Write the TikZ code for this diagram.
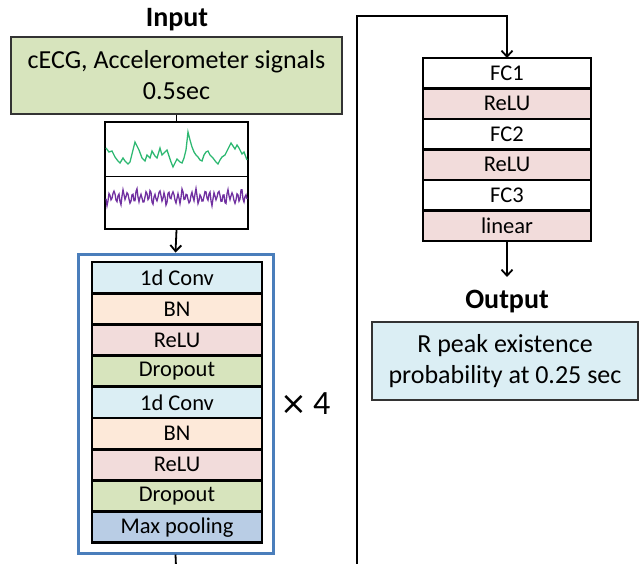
\documentclass[tikz,border=0pt]{standalone}
\usepackage{fontspec}
\setmainfont{Carlito}
\newfontfamily\dvsfont{DejaVu Sans}
\usetikzlibrary{arrows.meta}
\definecolor{cConv}{HTML}{DBEEF4}
\definecolor{cBN}{HTML}{FDE9D9}
\definecolor{cReLU}{HTML}{F2DCDB}
\definecolor{cDrop}{HTML}{D7E4BD}
\definecolor{cPool}{HTML}{B9CDE5}
\definecolor{cBlue}{HTML}{4A7EBB}
\definecolor{cEcg}{HTML}{2EB872}
\definecolor{cAcc}{HTML}{7030A0}
\tikzset{
  layer/.style={draw=black, line width=2.8pt, minimum height=31.2pt, inner sep=0pt,
    font=\fontsize{22.5}{24}\selectfont},
  lleft/.style={layer, minimum width=170pt},
  lright/.style={layer, minimum width=168pt, minimum height=30.5pt},
  iobox/.style={draw=black!80, line width=1.3pt, align=center, inner sep=0pt,
    font=\fontsize{26}{31}\selectfont},
  ttl/.style={font=\fontsize{28}{30}\selectfont\bfseries},
  conn/.style={line width=1.8pt, draw=black},
  arr/.style={conn, -{Straight Barb[length=6pt,width=11pt,line width=1.8pt]}},
}
\begin{document}
\begin{tikzpicture}[x=1pt,y=-1pt]
\useasboundingbox (0,0) rectangle (639,563);
% input
\node[ttl] (inT) at (177,20) {Input};
\node[iobox, fill=cDrop, minimum width=331pt, minimum height=77pt] (inbox) at (176.5,75.5)
  {cECG, Accelerometer signals\\0.5sec};
% signal box
\node[draw=black, line width=1.6pt, minimum width=143pt, minimum height=107pt, inner sep=0pt] (sig) at (176.5,175.5) {};
\draw[line width=1pt] (sig.west |- 0,176) -- (sig.east |- 0,176);
\draw[cEcg, line width=1.3pt] plot coordinates {(106,148) (109,152) (112,151) (115,157) (118,161) (120,163) (123,158) (125,161) (128,164) (130,162) (133,150) (135,142) (137,146) (139,150) (142,158) (145,161) (147,155) (150,158) (152,151) (155,156) (157,158) (160,148) (162,155) (164,153) (167,150) (169,156) (171,162) (173,167) (175,163) (177,159) (180,162) (182,163) (184,158) (186,150) (188,132) (190,140) (192,147) (194,152) (196,155) (198,157) (200,160) (202,161) (204,155) (206,152) (208,151) (210,155) (213,158) (216,162) (218,164) (220,160) (222,157) (225,155) (227,151) (229,147) (231,143) (233,146) (235,149) (237,145) (239,148) (242,154) (244,152) (247,160)};
\draw[cAcc, line width=1.3pt] plot[domain=0:141, samples=142] ({106+\x}, {197 + 5*sin(\x*79) + 2.5*sin(\x*31+40) + 1.5*sin(\x*103)});
\draw[conn] (inbox.south) -- (sig.north);
% conv block
\node[draw=cBlue, line width=3pt, minimum width=195pt, minimum height=299pt, inner sep=0pt] (outer) at (175.5,403.5) {};
\draw[arr] (sig.south) -- (outer.north);
\node[lleft, fill=cConv] (c1) at (177,277.6) {1d Conv};
\node[lleft, fill=cBN] (b1) at (177,308.8) {BN};
\node[lleft, fill=cReLU] (r1) at (177,340.0) {ReLU};
\node[lleft, fill=cDrop] (d1) at (177,371.2) {Dropout};
\node[lleft, fill=cConv] (c2) at (177,402.4) {1d Conv};
\node[lleft, fill=cBN] (b2) at (177,433.6) {BN};
\node[lleft, fill=cReLU] (r2) at (177,464.8) {ReLU};
\node[lleft, fill=cDrop] (d2) at (177,496.0) {Dropout};
\node[lleft, fill=cPool] (mp) at (177,527.2) {Max pooling};
\node[font=\fontsize{34}{36}\selectfont, anchor=west, inner sep=0pt] (x4) at (280,404) {{\dvsfont\fontsize{32}{36}\selectfont ×}\hspace{6pt}4};
% loop connector
\draw[arr] (outer.south) -- (177,590) -- (357,590) -- (357,16) -| (507,58);
% FC block
\node[lright, fill=white] (f1) at (507,73.25) {FC1};
\node[lright, fill=cReLU] (fr1) at (507,103.75) {ReLU};
\node[lright, fill=white] (f2) at (507,134.25) {FC2};
\node[lright, fill=cReLU] (fr2) at (507,164.75) {ReLU};
\node[lright, fill=white] (f3) at (507,195.25) {FC3};
\node[lright, fill=cReLU] (lin) at (507,225.75) {linear};
\draw[arr] (lin.south) -- (507,277);
% output
\node[ttl] (outT) at (507,302) {Output};
\node[iobox, fill=cConv, minimum width=266pt, minimum height=78pt] (outbox) at (505,361)
  {R peak existence\\probability at 0.25 sec};
\end{tikzpicture}
\end{document}
